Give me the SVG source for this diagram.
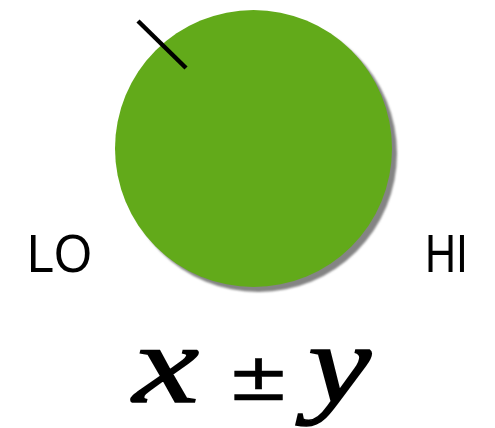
<svg xmlns="http://www.w3.org/2000/svg" width="495" height="428" viewBox="0 0 495 428">
<defs>
<filter id="blur" x="-10%" y="-10%" width="120%" height="120%"><feGaussianBlur stdDeviation="1.2"/></filter>
</defs>
<style>
.lbl{font-family:"Liberation Sans",Arial,sans-serif;font-size:54px;fill:#000;font-weight:normal}
.math{font-family:"Liberation Serif","Times New Roman",serif;font-style:italic;font-weight:normal;font-size:112px;fill:#000;stroke:#000;stroke-width:1.6}
.op{font-family:"DejaVu Sans",sans-serif;font-size:66px;fill:#000;stroke:#000;stroke-width:0.6;text-anchor:middle}
</style>
<rect width="495" height="428" fill="#fff"/>
<g id="knob">
<circle cx="258.5" cy="153.5" r="138.5" fill="#848484" filter="url(#blur)"/>
<circle cx="253.5" cy="148.5" r="138.5" fill="#62aa1a"/>
</g>
<g id="pointer">
<line x1="138" y1="21" x2="186" y2="68" stroke="#000" stroke-width="4.5"/>
</g>
<g id="lo"><text class="lbl" x="27" y="272" textLength="65" lengthAdjust="spacingAndGlyphs">LO</text></g>
<g id="hi"><text class="lbl" x="425" y="272" textLength="43" lengthAdjust="spacingAndGlyphs">HI</text></g>
<g id="formula">
<text class="math" x="133" y="402" textLength="66" lengthAdjust="spacingAndGlyphs">x</text>
<text class="op" x="258.5" y="400" transform="translate(258.5 0) scale(1.15 1) translate(-258.5 0)">±</text>
<text class="math" x="308" y="402" textLength="63" lengthAdjust="spacingAndGlyphs">y</text>
</g>
</svg>
